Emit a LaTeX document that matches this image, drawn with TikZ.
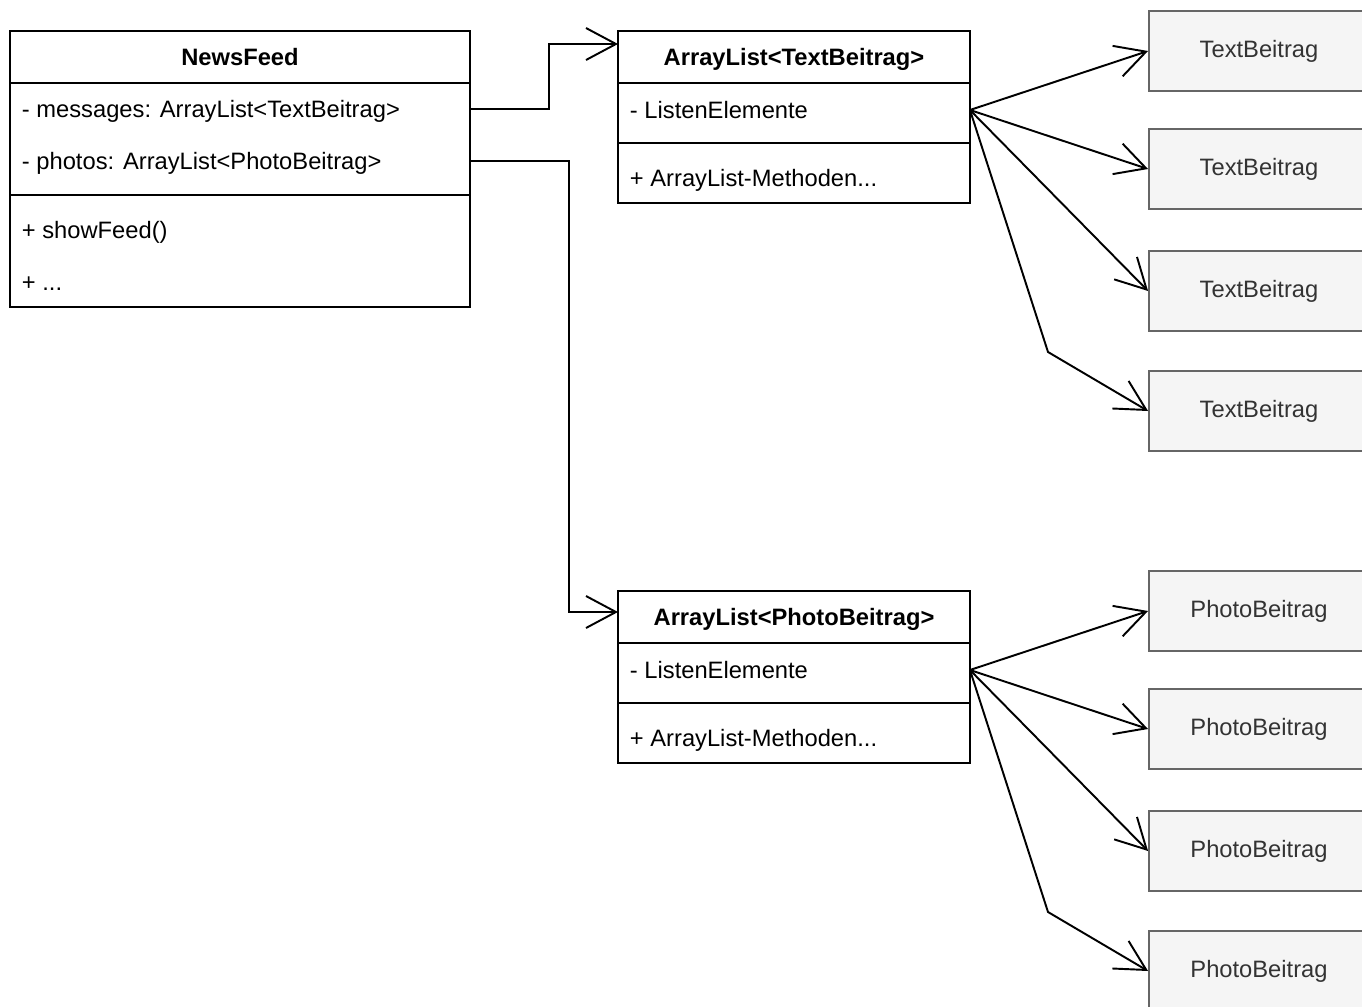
\documentclass[tikz,border=0pt]{standalone}
\usepackage{fontspec}
\setmainfont{Liberation Sans}
\usetikzlibrary{arrows.meta,positioning}
\definecolor{boxfill}{HTML}{F5F5F5}
\definecolor{boxline}{HTML}{666666}
\definecolor{boxtext}{HTML}{333333}

\begin{document}
\begin{tikzpicture}[x=0.02cm,y=-0.02cm,line width=1.1pt,
    font=\fontsize{13.5}{16}\selectfont,
    head/.style={draw,font=\fontsize{13.5}{16}\selectfont\bfseries,minimum height=1.04cm,inner sep=0pt,outer sep=0pt,text depth=0pt},
    compart/.style={draw,minimum height=#1,inner sep=0pt,outer sep=0pt},
    member/.style={anchor=west,inner xsep=0.22cm,inner ysep=0pt,text depth=0pt},
    item/.style={draw=boxline,fill=boxfill,text=boxtext,minimum width=4.4cm,minimum height=1.6cm,inner sep=0pt},
    has/.style={-{Straight Barb[length=0.6cm,width=0.64cm]}}]
      \useasboundingbox (0,0) rectangle (1362,1007);
      % class NewsFeed
      \node[head,minimum width=9.2cm] (nfHead) at (240,57) {NewsFeed};
      \node[compart=2.24cm,minimum width=9.2cm,below=0pt of nfHead] (nfAttr) {};
      \node[compart=2.24cm,minimum width=9.2cm,below=0pt of nfAttr] (nfOps) {};
      \node[member] (nfMsg) at (10,109) {- messages: ArrayList<TextBeitrag>};
      \node[member] (nfPho) at (10,161) {- photos: ArrayList<PhotoBeitrag>};
      \node[member] (nfShow) at (10,230) {+ showFeed()};
      \node[member] (nfMore) at (10,284) {+ ...};
      % ArrayList<TextBeitrag>
      \node[head,minimum width=7.04cm] (tlHead) at (794,57) {ArrayList<TextBeitrag>};
      \node[compart=1.2cm,minimum width=7.04cm,below=0pt of tlHead] (tlAttr) {};
      \node[compart=1.2cm,minimum width=7.04cm,below=0pt of tlAttr] (tlOps) {};
      \node[member] (tlElem) at (618,110) {- ListenElemente};
      \node[member] (tlMeth) at (618,178) {+ ArrayList-Methoden...};
      % ArrayList<PhotoBeitrag>
      \node[head,minimum width=7.04cm] (plHead) at (794,617) {ArrayList<PhotoBeitrag>};
      \node[compart=1.2cm,minimum width=7.04cm,below=0pt of plHead] (plAttr) {};
      \node[compart=1.2cm,minimum width=7.04cm,below=0pt of plAttr] (plOps) {};
      \node[member] (plElem) at (618,670) {- ListenElemente};
      \node[member] (plMeth) at (618,738) {+ ArrayList-Methoden...};
      % list elements
      \node[item] (tb1) at (1259,51) {TextBeitrag};
      \node[item] (tb2) at (1259,169) {TextBeitrag};
      \node[item] (tb3) at (1259,291) {TextBeitrag};
      \node[item] (tb4) at (1259,411) {TextBeitrag};
      \node[item] (pb1) at (1259,611) {PhotoBeitrag};
      \node[item] (pb2) at (1259,729) {PhotoBeitrag};
      \node[item] (pb3) at (1259,851) {PhotoBeitrag};
      \node[item] (pb4) at (1259,971) {PhotoBeitrag};
      % references
      \draw[has] (nfMsg -| nfHead.east) -- ++(79,0) |- ([yshift=0.26cm]tlHead.west);
      \draw[has] (nfPho -| nfHead.east) -- ++(99,0) |- ([yshift=0.1cm]plHead.west);
      \draw[has] (tlElem -| tlHead.east) -- (tb1.west);
      \draw[has] (tlElem -| tlHead.east) -- (tb2.west);
      \draw[has] (tlElem -| tlHead.east) -- (tb3.west);
      \draw[has] (tlElem -| tlHead.east) -- (1048,352) -- (tb4.west);
      \draw[has] (plElem -| plHead.east) -- (pb1.west);
      \draw[has] (plElem -| plHead.east) -- (pb2.west);
      \draw[has] (plElem -| plHead.east) -- (pb3.west);
      \draw[has] (plElem -| plHead.east) -- (1048,912) -- (pb4.west);
\end{tikzpicture}
\end{document}
